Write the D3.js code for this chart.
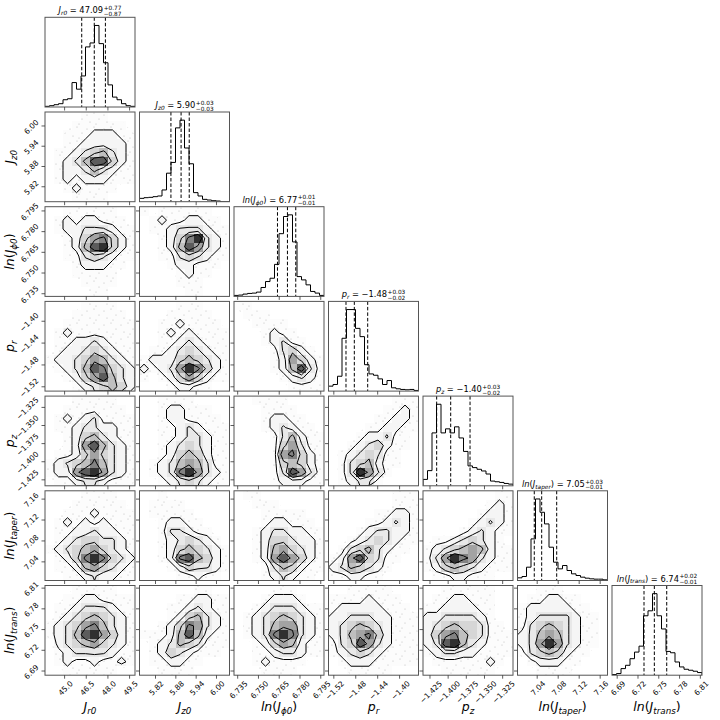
<!DOCTYPE html>
<html>
<head>
<meta charset="utf-8">
<script src="https://cdn.jsdelivr.net/npm/d3@7"></script>
<style>
  body { margin: 0; background: #fff; }
  svg { display: block; }
  text { font-family: "DejaVu Sans", sans-serif; fill: #000; }
</style>
</head>
<body>
<script>
// ---- data ----
const ranges = [[43.677, 49.910], [5.77425, 6.03989], [6.7327, 6.7977], [-1.5288, -1.3646],
                [-1.4339, -1.3101], [7.00343, 7.1749], [6.68322, 6.81309]];
const tickValues = [[45.0, 46.5, 48.0, 49.5], [5.82, 5.88, 5.94, 6.00], [6.735, 6.750, 6.765, 6.780, 6.795],
                    [-1.52, -1.48, -1.44, -1.40], [-1.425, -1.400, -1.375, -1.350, -1.325],
                    [7.04, 7.08, 7.12, 7.16], [6.69, 6.72, 6.75, 6.78, 6.81]];
const tickFormats = [".1f", ".2f", ".3f", ".2f", ".3f", ".2f", ".2f"];
const labelParts = [
  {ln: false, sym: "J", sub: "r0"},
  {ln: false, sym: "J", sub: "z0"},
  {ln: true,  sym: "J", sub: "ϕ0"},
  {ln: false, sym: "p", sub: "r"},
  {ln: false, sym: "p", sub: "z"},
  {ln: true,  sym: "J", sub: "taper"},
  {ln: true,  sym: "J", sub: "trans"}
];
const titleValues = ["47.09", "5.90", "6.77", "−1.48", "−1.40", "7.05", "6.74"];
const titlePlus   = ["+0.77", "+0.03", "+0.01", "+0.03", "+0.03", "+0.03", "+0.02"];
const titleMinus  = ["−0.87", "−0.03", "−0.01", "−0.02", "−0.02", "−0.01", "−0.01"];
// 16th, 50th, 84th percentiles (dashed lines)
const quantiles = [[46.22, 47.09, 47.86], [5.867, 5.897, 5.921], [6.7641, 6.7713, 6.7773],
                   [-1.4969, -1.4817, -1.4573], [-1.4151, -1.3958, -1.3692],
                   [7.0354, 7.0495, 7.0781], [6.7294, 6.7443, 6.7622]];
// 20-bin histogram counts
const hist0 = [2, 4, 7, 10, 22, 25, 74, 54, 94, 182, 194, 247, 192, 134, 67, 30, 22, 10, 4, 2];
const hist1 = [10, 12, 13, 15, 17, 35, 85, 117, 220, 243, 160, 113, 27, 17, 7, 5, 3, 2, 0, 0];
const hist2 = [3, 4, 7, 9, 10, 13, 27, 45, 55, 97, 190, 242, 247, 165, 60, 50, 35, 15, 10, 3];
const hist3 = [15, 20, 45, 160, 247, 247, 190, 165, 80, 52, 48, 37, 20, 32, 10, 7, 5, 4, 5, 2];
const hist4 = [19, 45, 157, 242, 157, 169, 157, 175, 142, 102, 59, 54, 49, 44, 35, 14, 12, 10, 7, 5];
const hist5 = [8, 12, 40, 125, 245, 205, 170, 100, 55, 35, 45, 30, 20, 15, 10, 7, 5, 4, 4, 2];
const hist6 = [2, 5, 20, 30, 50, 70, 88, 180, 195, 247, 180, 140, 72, 68, 40, 25, 18, 15, 12, 8];
const hists = [hist0, hist1, hist2, hist3, hist4, hist5, hist6];
// coarse 10x10 density grids (row 0 = top of panel), 0 = empty ... 9 = peak
const densityGrids = [
  {row: 1, col: 0, cells: ["0000111000","0001111110","0011122211","0011222221","0112345321","0123588421","0122353211","0121222111","0012111100","0001111000"]},
  {row: 2, col: 0, cells: ["0011111100","0121221110","0122333211","0012467421","0012589421","0011343211","0001222110","0001111100","0000111100","0000011000"]},
  {row: 2, col: 1, cells: ["1011111100","0121122110","0112333211","0012479321","0012586321","0011343211","0001221110","0000121100","0000111000","0000011000"]},
  {row: 3, col: 0, cells: ["0000111100","0001111110","0011111111","0121111111","0112232111","0122343211","1223465321","0123587432","0012468532","0001234542"]},
  {row: 3, col: 1, cells: ["0000111000","0001111100","0011211110","0012121111","0011232111","0112343211","1222454321","2123697421","1012464211","0001221100"]},
  {row: 3, col: 2, cells: ["1100000000","0111000000","0011110000","0001211000","0001231100","0000134210","0000126421","0000125831","0000012321","0000001111"]},
  {row: 4, col: 0, cells: ["0001111100","0011111110","0121231111","0112332211","0012453211","0012685321","0112464321","1234575321","1226896321","0112332111"]},
  {row: 4, col: 1, cells: ["0011110000","0012211100","0012211110","0011232111","0011233211","0012343211","0012454211","0123565311","0123796321","0012343211"]},
  {row: 4, col: 2, cells: ["0011110000","0001111000","0001221100","0001232110","0000135211","0000146311","0000167421","0000145421","0000138631","0000122211"]},
  {row: 4, col: 3, cells: ["0000000111","0000001121","0000011221","0000112211","0001223110","0012342110","0123431100","0134521100","0139631000","0123310000"]},
  {row: 5, col: 0, cells: ["0000111100","0001111110","0011121111","0121212111","0112232211","0123443321","1234564321","0124797432","0112564321","0011232211"]},
  {row: 5, col: 1, cells: ["0010000000","0111100000","0111110000","0012211000","0013321100","0012343210","0012454321","0012785421","0001243321","0000112110"]},
  {row: 5, col: 2, cells: ["0110000000","0011100000","0001111100","0001221110","0012332211","0012443221","0012564321","0012686421","0001354211","0001232110"]},
  {row: 5, col: 3, cells: ["0000000111","0000000111","0000011221","0000112321","0001233221","0012343211","0134532110","1268431100","2354321000","1122110000"]},
  {row: 5, col: 4, cells: ["0000000011","0000000121","0000001221","0000012321","0000123211","0112343210","1234565211","1369763211","1245432111","0112211100"]},
  {row: 6, col: 0, cells: ["0001111100","0011221111","0112333211","0123454321","1234675321","1235896421","0234564321","0123333211","0121121121","0011111100"]},
  {row: 6, col: 1, cells: ["0000001100","0000112211","0001123211","0001245321","0012476321","1112585211","0123543111","0124321110","0112211000","0011110000"]},
  {row: 6, col: 2, cells: ["0000111000","0001222100","0012333211","0123454321","0123566321","0123797321","0012465211","0011233211","0012111100","0001111000"]},
  {row: 6, col: 3, cells: ["0011111000","1111211100","1222221110","2233322111","2345432111","2356742111","1348632111","1234321111","0122211111","0011111000"]},
  {row: 6, col: 4, cells: ["0011111100","0112211100","1122221100","2233332100","2345443110","2467543111","2389532111","1233221111","0111111210","0011111100"]},
  {row: 6, col: 5, cells: ["0011100000","0112211000","1222221100","1233332110","1345432110","2356532110","2369632110","1345421100","0122211000","0011110000"]}
];
const contourLevels = [1.5, 2.8, 4.5, 6.5];

// ---- layout ----
const width = 720, height = 720;
const N = 7, panelW = 90, panelH = 89.7, stepX = 94.5, stepY = 94.7, left0 = 45, top0 = 17.3;
const tickFs = 7.5, labelFs = 12.5, titleFs = 8.3;
const panelLeft = c => left0 + c * stepX;
const panelTop = r => top0 + r * stepY;

const svg = d3.select("body").append("svg").attr("width", width).attr("height", height);
const defs = svg.append("defs");

// faint speckle for the sparse scatter points
const pat = defs.append("pattern").attr("id", "dots")
  .attr("patternUnits", "userSpaceOnUse").attr("width", 17).attr("height", 14);
[[2, 3], [9, 1], [14, 7], [5, 10], [11, 12]].forEach(p => {
  pat.append("circle").attr("cx", p[0]).attr("cy", p[1]).attr("r", 0.55).attr("fill", "#b4b4b4");
});

const xs = ranges.map((d, c) => d3.scaleLinear().domain(d).range([panelLeft(c), panelLeft(c) + panelW]));

function mathText(sel, parts, fs, extra) {
  const t = sel.append("text").attr("font-size", fs);
  if (parts.ln) {
    t.append("tspan").attr("font-style", "italic").text("ln");
    t.append("tspan").text("(");
  }
  t.append("tspan").attr("font-style", "italic").text(parts.sym);
  t.append("tspan").attr("font-style", "italic").attr("font-size", fs * 0.7).attr("dy", fs * 0.22).text(parts.sub);
  t.append("tspan").attr("dy", -fs * 0.22).text((parts.ln ? ")" : "") + (extra || ""));
  return t;
}

function xAxis(g, c, r, labels) {
  const ax = d3.axisBottom(xs[c]).tickValues(tickValues[c]).tickSizeOuter(0).tickSizeInner(3.5)
    .tickFormat(labels ? d3.format(tickFormats[c]) : "");
  const a = g.append("g").attr("transform", `translate(0,${panelTop(r) + panelH})`).call(ax);
  a.select(".domain").remove();
  a.selectAll("line").attr("stroke", "#333").attr("stroke-width", 0.8);
  a.selectAll("text").attr("font-size", tickFs).attr("font-family", "DejaVu Sans")
    .attr("y", 0).attr("dy", null).attr("text-anchor", "middle").attr("dominant-baseline", "central")
    .attr("transform", function() {
      const w = this.getComputedTextLength();
      const b = (w + tickFs) * 0.7071;
      return `translate(1,${3.5 + 1 + b / 2}) rotate(-45)`;
    });
}

function yAxis(g, r, c, labels) {
  const ys = d3.scaleLinear().domain(ranges[r]).range([panelTop(r) + panelH, panelTop(r)]);
  const ax = d3.axisLeft(ys).tickValues(tickValues[r]).tickSizeOuter(0).tickSizeInner(3.5)
    .tickFormat(labels ? d3.format(tickFormats[r]) : "");
  const a = g.append("g").attr("transform", `translate(${panelLeft(c)},0)`).call(ax);
  a.select(".domain").remove();
  a.selectAll("line").attr("stroke", "#333").attr("stroke-width", 0.8);
  a.selectAll("text").attr("font-size", tickFs).attr("font-family", "DejaVu Sans")
    .attr("x", 0).attr("dy", null).attr("text-anchor", "middle").attr("dominant-baseline", "central")
    .attr("transform", function() {
      const w = this.getComputedTextLength();
      const b = (w + tickFs) * 0.7071;
      return `translate(${-(3.5 + 1.5 + b / 2)},1) rotate(-45)`;
    });
}

function clipFor(r, c) {
  const id = `clip-${r}-${c}`;
  defs.append("clipPath").attr("id", id).append("rect")
    .attr("x", panelLeft(c)).attr("y", panelTop(r)).attr("width", panelW).attr("height", panelH);
  return `url(#${id})`;
}

function frame(r, c) {
  svg.append("rect").attr("x", panelLeft(c)).attr("y", panelTop(r)).attr("width", panelW).attr("height", panelH)
    .attr("fill", "none").attr("stroke", "#555").attr("stroke-width", 1);
}

// ---- diagonal histograms ----
for (let c = 0; c < N; c++) {
  const h = hists[c];
  const x = xs[c];
  const y = d3.scaleLinear().domain([0, d3.max(h) * 1.1]).range([panelTop(c) + panelH, panelTop(c)]);
  const edges = d3.range(h.length + 1).map(i => ranges[c][0] + i * (ranges[c][1] - ranges[c][0]) / h.length);
  const pts = [[edges[0], 0]];
  h.forEach((v, i) => { pts.push([edges[i], v]); pts.push([edges[i + 1], v]); });
  pts.push([edges[h.length], 0]);
  const g = svg.append("g").attr("clip-path", clipFor(c, c));
  g.append("path").attr("d", d3.line().x(d => x(d[0])).y(d => y(d[1]))(pts))
    .attr("fill", "none").attr("stroke", "#000").attr("stroke-width", 1);
  quantiles[c].forEach(q => {
    g.append("line").attr("x1", x(q)).attr("x2", x(q)).attr("y1", panelTop(c)).attr("y2", panelTop(c) + panelH)
      .attr("stroke", "#000").attr("stroke-width", 1).attr("stroke-dasharray", "3.5,2");
  });
  frame(c, c);
  xAxis(svg, c, c, c === N - 1);

  // title
  const tg = svg.append("g");
  const t = mathText(tg, labelParts[c], titleFs, " = " + titleValues[c]);
  const w = t.node().getComputedTextLength();
  const sup = tg.append("text").attr("font-size", titleFs * 0.7).attr("x", w + 0.5).attr("y", -3.3).text(titlePlus[c]);
  const sub = tg.append("text").attr("font-size", titleFs * 0.7).attr("x", w + 0.5).attr("y", 2.6).text(titleMinus[c]);
  const tw = w + 0.5 + Math.max(sup.node().getComputedTextLength(), sub.node().getComputedTextLength());
  tg.attr("transform", `translate(${panelLeft(c) + panelW / 2 - tw / 2},${panelTop(c) - 4})`);
}

// ---- 2D density panels ----
densityGrids.forEach(d => {
  const r = d.row, c = d.col, n = d.cells.length;
  const values = d.cells.flatMap(s => s.split("").map(Number));
  const gx = d3.scaleLinear().domain([0, n]).range([panelLeft(c), panelLeft(c) + panelW]);
  const gy = d3.scaleLinear().domain([0, n]).range([panelTop(r), panelTop(r) + panelH]);
  const proj = d3.geoTransform({ point: function(px, py) { this.stream.point(gx(px), gy(py)); } });
  const path = d3.geoPath(proj);
  const contours = d3.contours().size([n, n]).smooth(true);

  const g = svg.append("g").attr("clip-path", clipFor(r, c));
  // sparse points
  g.append("path").attr("d", path(contours.contour(values, 0.5))).attr("fill", "url(#dots)");
  // white under the outermost level
  g.append("path").attr("d", path(contours.contour(values, contourLevels[0]))).attr("fill", "#fff");
  // density squares (white -> black ramp with transparency, like a pcolor)
  values.forEach((v, i) => {
    if (v < 1) return;
    const ix = i % n, iy = Math.floor(i / n);
    const t = 1 - v / 10;
    const x0 = Math.round(gx(ix)), x1 = Math.round(gx(ix + 1));
    const y0 = Math.round(gy(iy)), y1 = Math.round(gy(iy + 1));
    g.append("rect").attr("x", x0).attr("y", y0).attr("width", x1 - x0).attr("height", y1 - y0)
      .attr("fill", d3.rgb(255 * t, 255 * t, 255 * t)).attr("fill-opacity", 1 - t)
      .attr("shape-rendering", "crispEdges");
  });
  // contour lines
  contourLevels.forEach(lv => {
    g.append("path").attr("d", path(contours.contour(values, lv)))
      .attr("fill", "none").attr("stroke", "#000").attr("stroke-width", 1).attr("stroke-linejoin", "round");
  });
  frame(r, c);
  xAxis(svg, c, r, r === N - 1);
  yAxis(svg, r, c, c === 0);
});

// ---- axis labels ----
for (let c = 0; c < N; c++) {
  const g = svg.append("g").attr("transform", `translate(${panelLeft(c) + panelW / 2},711)`);
  mathText(g, labelParts[c], labelFs).attr("text-anchor", "middle");
}
for (let r = 1; r < N; r++) {
  const g = svg.append("g").attr("transform", `translate(14,${panelTop(r) + panelH / 2}) rotate(-90)`);
  mathText(g, labelParts[r], labelFs).attr("text-anchor", "middle");
}
</script>
</body>
</html>
